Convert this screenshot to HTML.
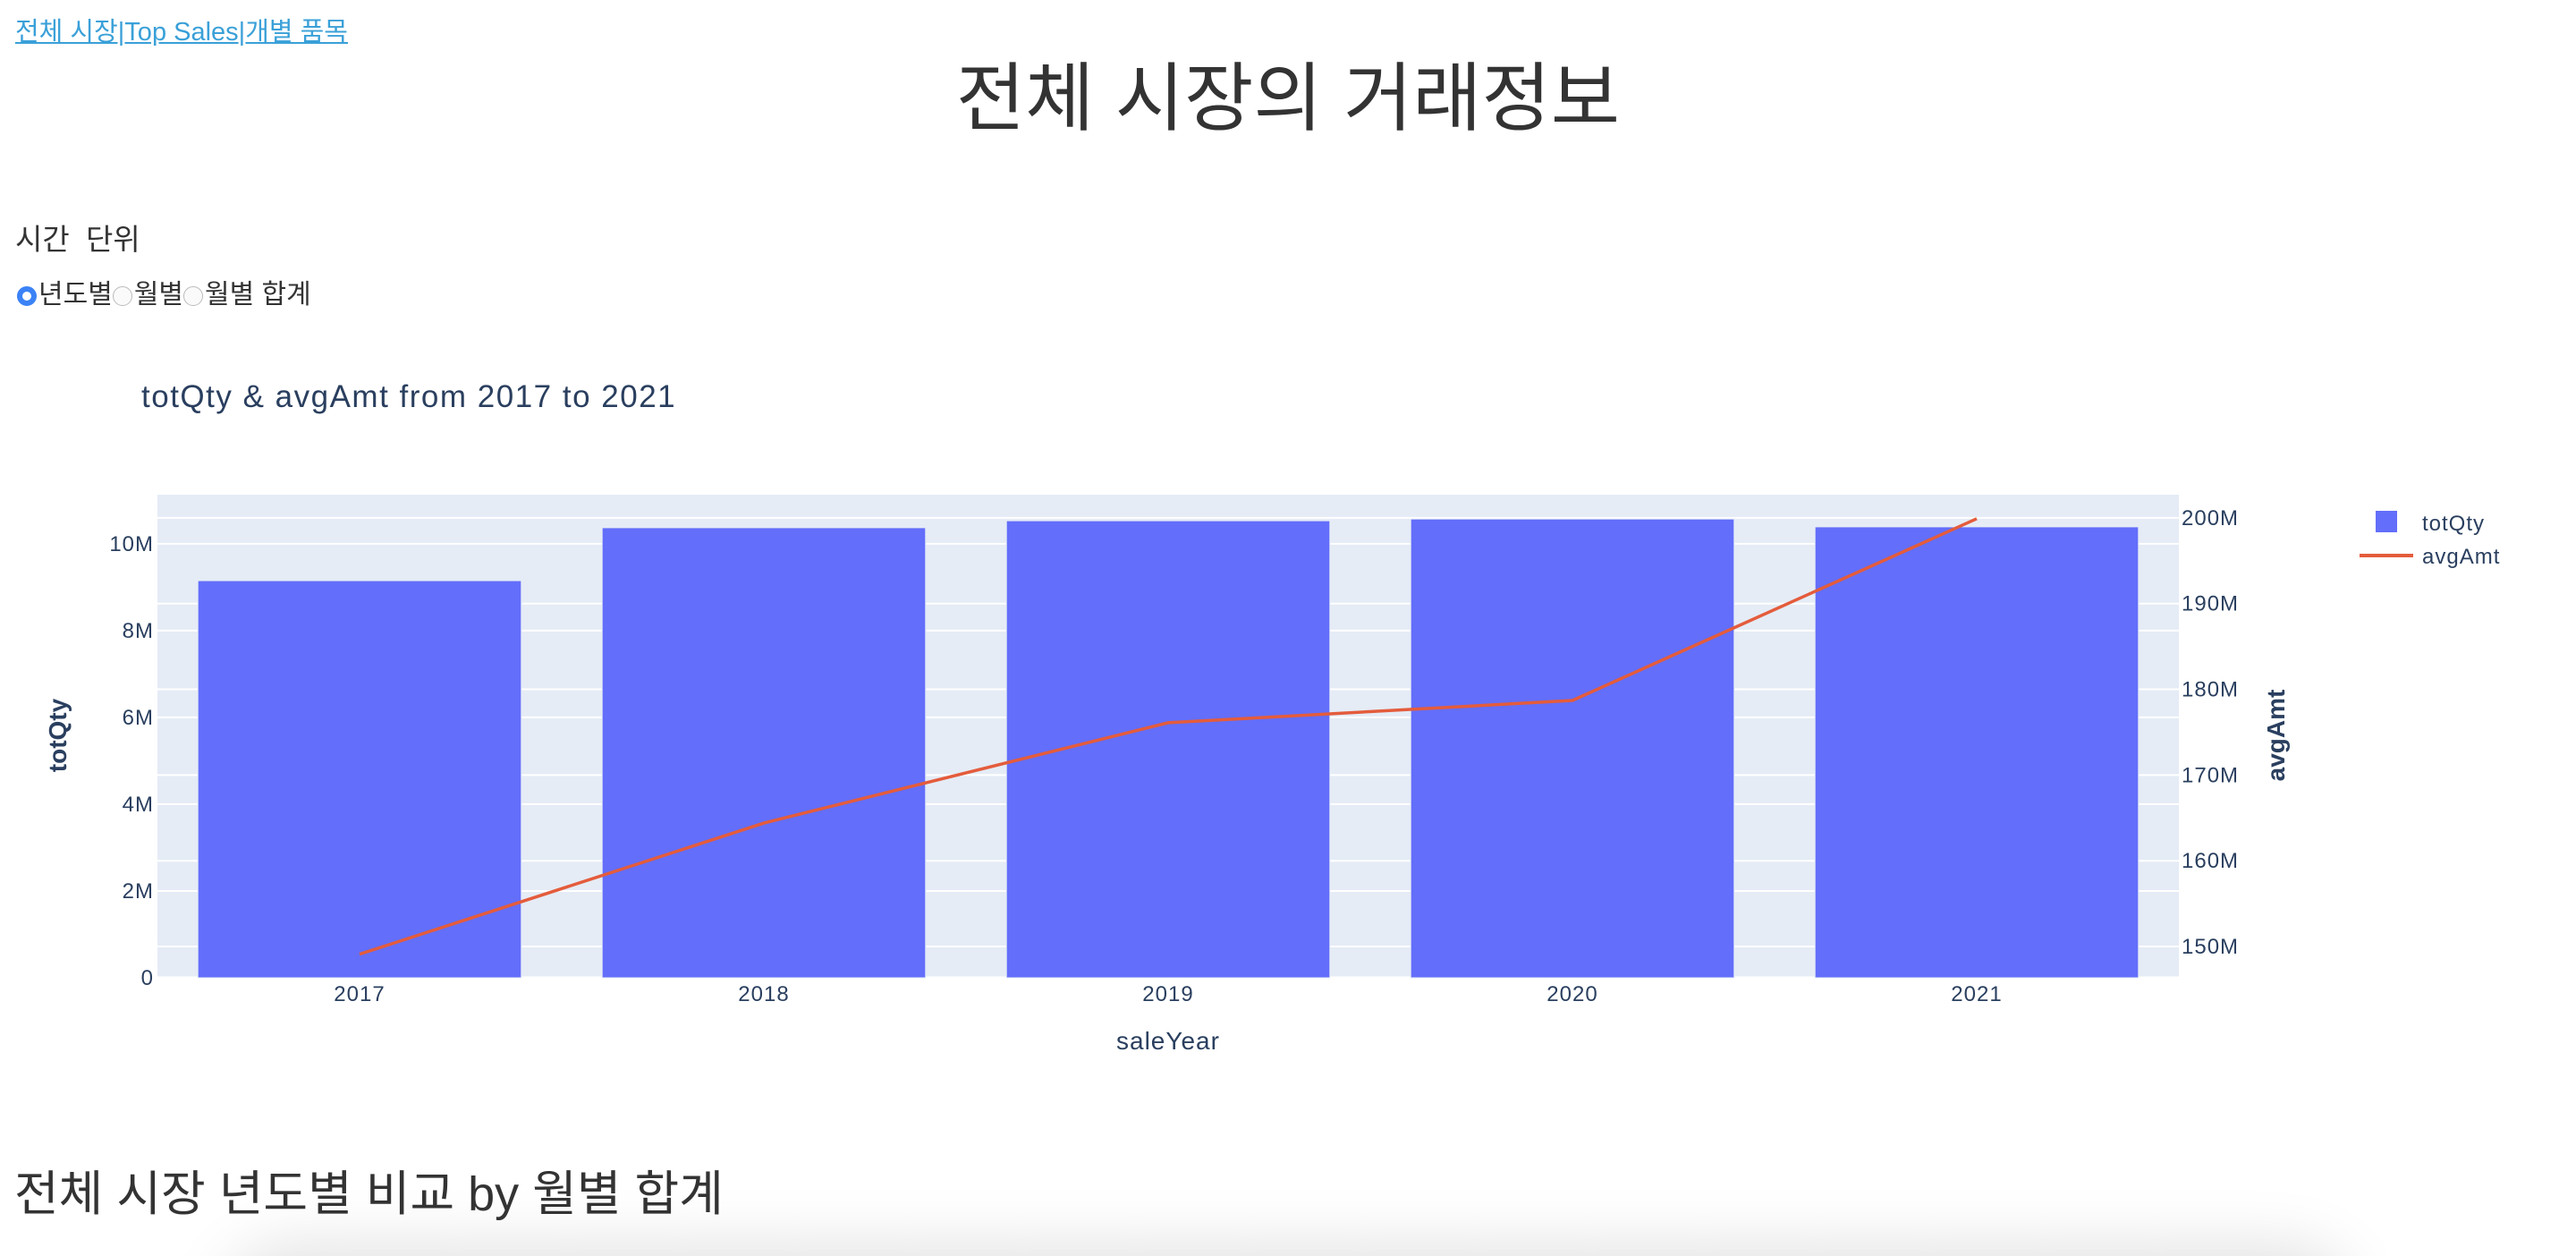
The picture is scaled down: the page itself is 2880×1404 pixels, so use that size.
<!DOCTYPE html>
<html><head><meta charset="utf-8">
<style>
html,body{margin:0;padding:0;background:#fff;width:2880px;height:1404px;overflow:hidden;position:relative;font-family:"Liberation Sans","Noto Sans CJK KR",sans-serif;color:#333}
.abs{position:absolute;white-space:nowrap}
a{color:#3aa0d8}
.radio{display:inline-block;width:22px;height:22px;border-radius:50%;border:1px solid #bbb;background:#fafafa;vertical-align:middle;box-sizing:border-box;margin:0 2px 0 0}
.radio.on{border:6px solid #3b82f6;background:#fff}
</style></head><body>
<a class="abs" style="left:17px;top:12px;font-size:29px;" href="#">전체 시장|Top Sales|개별 품목</a>
<div class="abs" style="left:0;width:2880px;text-align:center;top:58px;font-size:84px;line-height:104px;color:#333">전체 시장의 거래정보</div>
<div class="abs" style="left:17px;top:248px;font-size:33px;line-height:40px">시간&nbsp; 단위</div>
<div class="abs" style="left:19px;top:312px;font-size:30px;line-height:36px">
<span><span class="radio on"></span>년도별</span><span><span class="radio"></span>월별</span><span><span class="radio"></span>월별 합계</span>
</div>
<svg class="abs" style="left:0;top:0" width="2880" height="1250" id="chart" font-family="Liberation Sans, sans-serif"></svg>
<div class="abs" style="left:0;top:1250px;width:2880px;height:154px;overflow:hidden">
<div class="abs" style="left:275px;top:175px;width:2330px;height:100px;border-radius:60px;box-shadow:0 0 70px 30px rgba(0,0,0,0.13);background:#f4f4f4"></div>
</div>
<div class="abs" style="left:16px;top:1302px;font-size:54px;line-height:66px;color:#333">전체 시장 년도별 비교 by 월별 합계</div>
<script>
const categories = ['2017','2018','2019','2020','2021'];
const totQty = [9.15e6, 10.37e6, 10.53e6, 10.57e6, 10.39e6];
const avgAmt = [149.1e6, 164.4e6, 176.1e6, 178.7e6, 199.9e6];
const leftTicks = [0, 2e6, 4e6, 6e6, 8e6, 10e6];
const leftTickLabels = ['0','2M','4M','6M','8M','10M'];
const rightTicks = [150e6,160e6,170e6,180e6,190e6,200e6];
const rightTickLabels = ['150M','160M','170M','180M','190M','200M'];

const NS='http://www.w3.org/2000/svg';
const svg=document.getElementById('chart');
const PL=176, PR=2436, PT=553, PB=1093;
const yL=v=>PB-(v-0)/(11.13e6)*(PB-PT);
const yR=v=>PB-(v-146.35e6)/(202.7e6-146.35e6)*(PB-PT);
const band=(PR-PL)/categories.length;
const xC=i=>PL+band*(i+0.5);
function mk(tag,attrs,txt){const e=document.createElementNS(NS,tag);for(const k in attrs)e.setAttribute(k,attrs[k]);if(txt!==undefined)e.textContent=txt;svg.appendChild(e);return e;}

let e=mk('rect',{x:PL,y:PT,width:PR-PL,height:PB-PT,fill:'#e5ecf6'});


rightTicks.forEach((v,i)=>{
  let g=mk('line',{x1:PL,x2:PR,y1:yR(v),y2:yR(v),stroke:'#fff','stroke-width':2});
  
  
  let t=mk('text',{x:PR+3,y:yR(v)+8,'font-size':24,fill:'#2a3f5f','letter-spacing':1},rightTickLabels[i]);
  
  
});
leftTicks.forEach((v,i)=>{
  let g=mk('line',{x1:PL,x2:PR,y1:yL(v),y2:yL(v),stroke:'#fff','stroke-width':v===0?3:2});
  
  
  let t=mk('text',{x:PL-4,y:yL(v)+8,'font-size':24,fill:'#2a3f5f','text-anchor':'end','letter-spacing':1},leftTickLabels[i]);
  
  
});
categories.forEach((c,i)=>{
  const w=band*0.8;
  let b=mk('rect',{x:xC(i)-w/2,y:yL(totQty[i]),width:w,height:PB-yL(totQty[i]),fill:'#636efa',stroke:'#e5ecf6','stroke-width':1});
  
  
  let t=mk('text',{x:xC(i),y:1119,'font-size':24,fill:'#2a3f5f','text-anchor':'middle','letter-spacing':1},c);
  
  
});
let pts=avgAmt.map((v,i)=>xC(i)+','+yR(v)).join(' ');
let ln=mk('polyline',{points:pts,fill:'none',stroke:'#e45c3c','stroke-width':3.5});



e=mk('text',{x:158,y:455,'font-size':35,fill:'#2a3f5f','letter-spacing':1.5},'totQty & avgAmt from 2017 to 2021');


e=mk('text',{x:(PL+PR)/2,y:1173,'font-size':28,fill:'#2a3f5f','text-anchor':'middle','letter-spacing':1},'saleYear');


e=mk('text',{x:0,y:0,'font-size':28,'font-weight':'bold',fill:'#2a3f5f','text-anchor':'middle',transform:'translate(74,822) rotate(-90)'},'totQty');


e=mk('text',{x:0,y:0,'font-size':28,'font-weight':'bold',fill:'#2a3f5f','text-anchor':'middle',transform:'translate(2554,822) rotate(-90)'},'avgAmt');


e=mk('rect',{x:2656,y:571,width:24,height:24,fill:'#636efa'});


e=mk('text',{x:2708,y:593,'font-size':24,fill:'#2a3f5f','letter-spacing':1},'totQty');


e=mk('line',{x1:2638,x2:2698,y1:621,y2:621,stroke:'#e45c3c','stroke-width':4});


e=mk('text',{x:2708,y:630,'font-size':24,fill:'#2a3f5f','letter-spacing':1},'avgAmt');


</script>
</body></html>
